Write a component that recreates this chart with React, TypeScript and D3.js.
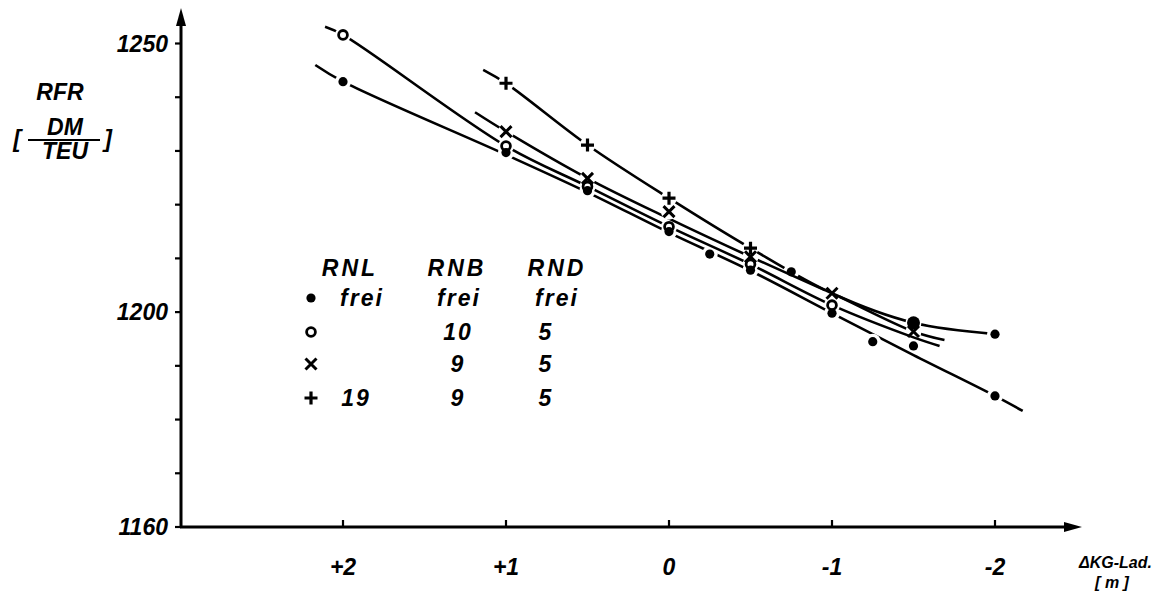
import React from 'react';
import * as d3 from 'd3';

const W = 1157;
const H = 593;

// axis ticks
const xTicks = [2, 1, 0, -1, -2];
const xTickLabels = ['+2', '+1', '0', '-1', '-2'];
const yTicks = [1160, 1170, 1180, 1190, 1200, 1210, 1220, 1230, 1240, 1250];
const yLabelTicks = [1250, 1200, 1160];

// drawn curves (ΔKG-Lad. [m], RFR [DM/TEU])
const dotLineX = [2.17, 2, 1, 0.5, 0, -0.5, -1, -1.5, -2, -2.17];
const dotLineY = [1246.0, 1242.9, 1229.3, 1222.3, 1214.8, 1207.7, 1199.8, 1192.0, 1184.4, 1181.6];
const circleLineX = [2.11, 2, 1, 0.5, 0, -0.5, -1, -1.5, -1.66];
const circleLineY = [1253.1, 1251.6, 1230.9, 1223.4, 1215.9, 1208.9, 1201.3, 1195.3, 1193.7];
const crossLineX = [1.19, 1, 0.5, 0, -0.5, -1, -1.5, -1.69];
const crossLineY = [1237.2, 1233.6, 1224.9, 1217.4, 1210.3, 1203.5, 1196.4, 1194.8];
const plusLineX = [1.14, 1, 0.5, 0, -0.5, -1, -1.5, -2];
const plusLineY = [1245.1, 1242.6, 1231.1, 1221.2, 1211.9, 1203.5, 1198.0, 1195.9];

// marked points
const dotMarkX = [2, 1, 0.5, 0, -0.25, -0.5, -1, -1.25, -2];
const dotMarkY = [1242.9, 1229.7, 1222.6, 1215.0, 1210.8, 1207.8, 1199.8, 1194.5, 1184.4];
const circleMarkX = [2, 1, 0.5, 0, -0.5, -1];
const circleMarkY = [1251.6, 1230.9, 1223.4, 1215.9, 1208.9, 1201.3];
const crossMarkX = [1, 0.5, 0, -0.5, -1, -1.5];
const crossMarkY = [1233.6, 1224.9, 1218.7, 1210.3, 1203.5, 1196.4];
const plusMarkX = [1, 0.5, 0, -0.5];
const plusMarkY = [1242.6, 1231.1, 1221.2, 1211.9];
const plusDotX = [-0.75, -1.5, -2];
const plusDotY = [1207.5, 1198.0, 1195.9];
const strayDotX = [-1.5];
const strayDotY = [1193.7];

// legend table
const legendHeaders = ['RNL', 'RNB', 'RND'];
const legendMarkers = ['dot', 'circle', 'cross', 'plus'];
const legendRNL = ['frei', '', '', '19'];
const legendRNB = ['frei', '10', '9', '9'];
const legendRND = ['frei', '5', '5', '5'];

const FONT = "'Liberation Sans', Arial, sans-serif";

const x = d3.scaleLinear().domain([2, -2]).range([343, 995]);
const y = d3.scaleLinear().domain([1160, 1250]).range([527, 43.5]);

const zip = (a: number[], b: number[]) => a.map((v, i) => [v, b[i]] as [number, number]);

const lineGen = d3
  .line<[number, number]>()
  .x((d) => x(d[0]))
  .y((d) => y(d[1]))
  .curve(d3.curveCatmullRom.alpha(0.5));

function Marker({ type, cx, cy, big }: { type: string; cx: number; cy: number; big?: boolean }) {
  if (type === 'dot') return <circle cx={cx} cy={cy} r={big ? 6.5 : 4.6} fill="#000" />;
  if (type === 'circle')
    return <circle cx={cx} cy={cy} r={4.4} fill="none" stroke="#000" strokeWidth={2.8} />;
  if (type === 'cross')
    return (
      <path
        d={`M${cx - 5.5},${cy - 5.5}L${cx + 5.5},${cy + 5.5}M${cx + 5.5},${cy - 5.5}L${cx - 5.5},${cy + 5.5}`}
        stroke="#000"
        strokeWidth={3}
      />
    );
  return (
    <path
      d={`M${cx - 6.5},${cy}L${cx + 6.5},${cy}M${cx},${cy - 6.5}L${cx},${cy + 6.5}`}
      stroke="#000"
      strokeWidth={3.2}
    />
  );
}

const series = [
  { id: 'dot', line: zip(dotLineX, dotLineY), gaps: zip(dotMarkX, dotMarkY) },
  { id: 'circle', line: zip(circleLineX, circleLineY), gaps: zip(circleMarkX, circleMarkY) },
  { id: 'cross', line: zip(crossLineX, crossLineY), gaps: zip(crossMarkX, crossMarkY) },
  {
    id: 'plus',
    line: zip(plusLineX, plusLineY),
    gaps: [...zip(plusMarkX, plusMarkY), ...zip(plusDotX, plusDotY)],
  },
];

export default function App() {
  const txt = {
    fontFamily: FONT,
    fontStyle: 'italic' as const,
    fontWeight: 'bold' as const,
    fontSize: 23,
    fill: '#000',
  };
  const legendRowY = [298, 332, 364, 398];
  const headerX = [350, 457, 557];
  const colX = [362, 459, 557];
  const numColX = [356, 458, 546];
  return (
    <svg
      width={W}
      height={H}
      viewBox={`0 0 ${W} ${H}`}
      style={{ position: 'absolute', left: 0, top: 0, background: '#fff' }}
    >
      <rect x={0} y={0} width={W} height={H} fill="#fff" />
      <defs>
        {series.map((s) => (
          <mask id={`gap-${s.id}`} key={s.id} maskUnits="userSpaceOnUse" x={0} y={0} width={W} height={H}>
            <rect x={0} y={0} width={W} height={H} fill="#fff" />
            {s.gaps.map((g, i) => (
              <circle key={i} cx={x(g[0])} cy={y(g[1])} r={8} fill="#000" />
            ))}
          </mask>
        ))}
      </defs>

      {/* axes */}
      <g stroke="#000" strokeWidth={3} fill="none">
        <line x1={181} y1={527} x2={181} y2={22} />
        <line x1={180} y1={527} x2={1068} y2={527} />
      </g>
      <path d="M181,8 L176,26 L186,26 Z" fill="#000" />
      <path d="M1082,527 L1064,522 L1064,532 Z" fill="#000" />
      {yTicks.map((t) => (
        <line key={t} x1={175} x2={181} y1={y(t)} y2={y(t)} stroke="#000" strokeWidth={2.2} />
      ))}
      {xTicks.map((t) => (
        <line key={t} x1={x(t)} x2={x(t)} y1={527} y2={520} stroke="#000" strokeWidth={2.2} />
      ))}
      {yLabelTicks.map((t) => (
        <text key={t} {...txt} x={168} y={y(t) + 8} textAnchor="end">
          {t}
        </text>
      ))}
      {xTicks.map((t, i) => (
        <text key={t} {...txt} x={x(t)} y={575} textAnchor="middle">
          {xTickLabels[i]}
        </text>
      ))}
      <text {...txt} x={1079} y={568} fontSize={16}>
        ΔKG-Lad.
      </text>
      <text {...txt} x={1112} y={588} fontSize={16} textAnchor="middle">
        [ m ]
      </text>

      {/* y-axis title */}
      <text {...txt} x={60} y={100} textAnchor="middle">
        RFR
      </text>
      <text {...txt} x={17} y={147} textAnchor="middle">
        [
      </text>
      <text {...txt} x={65} y={135} textAnchor="middle">
        DM
      </text>
      <line x1={28} x2={100} y1={140} y2={140} stroke="#000" strokeWidth={2.2} />
      <text {...txt} x={65} y={159} textAnchor="middle">
        TEU
      </text>
      <text {...txt} x={108} y={147} textAnchor="middle">
        ]
      </text>

      {/* curves */}
      {series.map((s) => (
        <path
          key={s.id}
          d={lineGen(s.line) || ''}
          fill="none"
          stroke="#000"
          strokeWidth={2.6}
          mask={`url(#gap-${s.id})`}
        />
      ))}

      {/* markers */}
      {zip(dotMarkX, dotMarkY).map((p, i) => (
        <Marker key={`d${i}`} type="dot" cx={x(p[0])} cy={y(p[1])} />
      ))}
      {zip(circleMarkX, circleMarkY).map((p, i) => (
        <Marker key={`c${i}`} type="circle" cx={x(p[0])} cy={y(p[1])} />
      ))}
      {zip(crossMarkX, crossMarkY).map((p, i) => (
        <Marker key={`x${i}`} type="cross" cx={x(p[0])} cy={y(p[1])} />
      ))}
      {zip(plusMarkX, plusMarkY).map((p, i) => (
        <Marker key={`p${i}`} type="plus" cx={x(p[0])} cy={y(p[1])} />
      ))}
      {zip(plusDotX, plusDotY).map((p, i) => (
        <Marker key={`pd${i}`} type="dot" cx={x(p[0])} cy={y(p[1])} big={i === 1} />
      ))}
      {zip(strayDotX, strayDotY).map((p, i) => (
        <Marker key={`s${i}`} type="dot" cx={x(p[0])} cy={y(p[1])} />
      ))}

      {/* legend */}
      {legendHeaders.map((h, i) => (
        <text key={h} {...txt} x={headerX[i]} y={276} textAnchor="middle" letterSpacing={3}>
          {h}
        </text>
      ))}
      {legendMarkers.map((m, r) => {
        const vals = [legendRNL[r], legendRNB[r], legendRND[r]];
        return (
          <g key={m}>
            <Marker type={m} cx={311} cy={legendRowY[r]} />
            {vals.map((v, c) => (
              <text
                key={c}
                {...txt}
                x={v === 'frei' ? colX[c] : numColX[c]}
                y={legendRowY[r] + 8}
                textAnchor="middle"
                letterSpacing={2}
              >
                {v}
              </text>
            ))}
          </g>
        );
      })}
    </svg>
  );
}
